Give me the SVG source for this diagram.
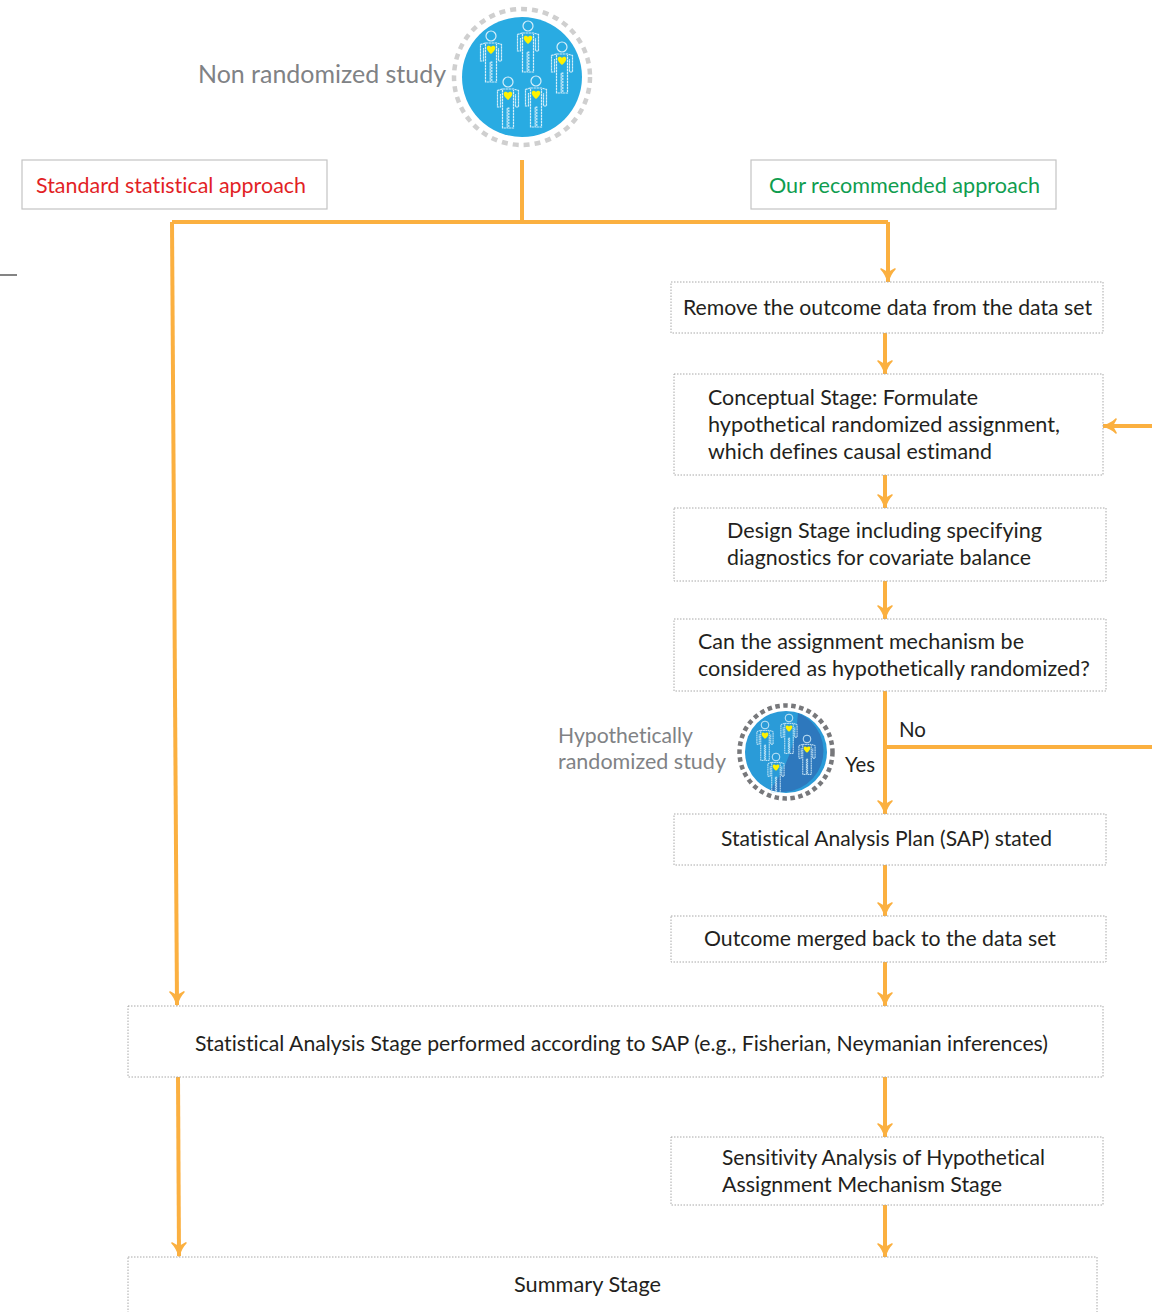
<svg xmlns="http://www.w3.org/2000/svg" xmlns:xlink="http://www.w3.org/1999/xlink" width="1152" height="1312" viewBox="0 0 1152 1312">
<style>
text{font-family:Lato,"Open Sans","Liberation Sans",sans-serif;font-size:22px;fill:#231f20;font-variant-ligatures:none}
.grey{fill:#808285}
.box{fill:#fff;stroke:#a8a8a8;stroke-width:1;stroke-dasharray:1.5 1.5}
.solid{fill:#fff;stroke:#c4c4c4;stroke-width:1.2}
.c{fill:none;stroke:#fbb040;stroke-width:4}
.p{fill:none;stroke:#d4eefa;stroke-width:1.2}
.d{fill:none;stroke:#d4eefa;stroke-width:1.2;stroke-dasharray:2.4 .6}
</style>
<defs>
<marker id="a" markerUnits="userSpaceOnUse" markerWidth="20" markerHeight="20" viewBox="0 0 20 20" refX="18" refY="10" orient="auto">
<path d="M5 3 Q10 8 18 10 Q10 12 5 17 L9 10 Z" fill="#fbb040" stroke="#fbb040" stroke-width="1.6" stroke-linejoin="round"/>
</marker>
<g id="person">
<circle cx="0" cy="0" r="5" class="p"/>
<path class="d" d="M-5.5 7 H5.5 L10.5 8.5 V25 H7.5 V12 M-5.5 7 L-10.5 8.5 V25 H-7.5 V12"/>
<path class="d" d="M-5.5 8 V46 H-.8 V26 H.8 V46 H5.5 V8"/>
<path d="M0 18 C-3 15.5 -4.5 13.5 -4.3 11.5 C-4 9.5 -1.2 9.2 0 11 C1.2 9.2 4 9.5 4.3 11.5 C4.5 13.5 3 15.5 0 18 Z" fill="#fff200"/>
</g>
</defs>
<g id="connectors">
<path class="c" d="M522 160 V222"/>
<path class="c" d="M172 222 H888"/>
<path class="c" d="M172 222 L177 1005" marker-end="url(#a)"/>
<path class="c" d="M888 222 V282" marker-end="url(#a)"/>
<path class="c" d="M885 333 V374" marker-end="url(#a)"/>
<path class="c" d="M885 475 V508" marker-end="url(#a)"/>
<path class="c" d="M885 581 V619" marker-end="url(#a)"/>
<path class="c" d="M885 691 V814" marker-end="url(#a)"/>
<path class="c" d="M885 747 H1152"/>
<path class="c" d="M1152 426 H1103" marker-end="url(#a)"/>
<path class="c" d="M885 865 V916" marker-end="url(#a)"/>
<path class="c" d="M885 962 V1006" marker-end="url(#a)"/>
<path class="c" d="M885 1077 V1137" marker-end="url(#a)"/>
<path class="c" d="M885 1205 V1257" marker-end="url(#a)"/>
<path class="c" d="M178 1077 L179 1256" marker-end="url(#a)"/>
</g>
<path d="M0 275 H17" stroke="#333" stroke-width="1.2"/>
<g id="non-randomized">
<text x="198" y="83" class="grey" style="font-size:25px" textLength="248" lengthAdjust="spacingAndGlyphs">Non randomized study</text>
<circle cx="522" cy="77" r="68" fill="none" stroke="#cfcfcf" stroke-width="4.5" stroke-dasharray="6 5"/>
<circle cx="522" cy="77" r="60" fill="#29abe2"/>
<use xlink:href="#person" href="#person" x="491" y="36"/>
<use xlink:href="#person" href="#person" x="528" y="26"/>
<use xlink:href="#person" href="#person" x="562" y="47"/>
<use xlink:href="#person" href="#person" x="508" y="82"/>
<use xlink:href="#person" href="#person" x="536" y="81"/>
</g>
<g id="standard"><rect class="solid" x="22" y="160" width="305" height="49"/><text x="36" y="193" style="fill:#e21f26" textLength="270" lengthAdjust="spacingAndGlyphs">Standard statistical approach</text></g>
<g id="recommended"><rect class="solid" x="751" y="160" width="305" height="49"/><text x="769" y="193" style="fill:#0f9d4f" textLength="271" lengthAdjust="spacingAndGlyphs">Our recommended approach</text></g>
<g id="remove"><rect class="box" x="671" y="282" width="432" height="51"/><text x="683" y="315" textLength="409" lengthAdjust="spacingAndGlyphs">Remove the outcome data from the data set</text></g>
<g id="conceptual"><rect class="box" x="674" y="374" width="429" height="101"/>
<text x="708" y="405" textLength="270" lengthAdjust="spacingAndGlyphs">Conceptual Stage: Formulate</text>
<text x="708" y="432" textLength="352" lengthAdjust="spacingAndGlyphs">hypothetical randomized assignment,</text>
<text x="708" y="459" textLength="284" lengthAdjust="spacingAndGlyphs">which defines causal estimand</text></g>
<g id="design"><rect class="box" x="674" y="508" width="432" height="73"/>
<text x="727" y="538" textLength="315" lengthAdjust="spacingAndGlyphs">Design Stage including specifying</text>
<text x="727" y="565" textLength="304" lengthAdjust="spacingAndGlyphs">diagnostics for covariate balance</text></g>
<g id="can"><rect class="box" x="674" y="619" width="432" height="72"/>
<text x="698" y="649" textLength="326" lengthAdjust="spacingAndGlyphs">Can the assignment mechanism be</text>
<text x="698" y="676" textLength="392" lengthAdjust="spacingAndGlyphs">considered as hypothetically randomized?</text></g>
<g id="hypothetical">
<text x="558" y="743" class="grey" textLength="135" lengthAdjust="spacingAndGlyphs">Hypothetically</text>
<text x="558" y="769" class="grey" textLength="168" lengthAdjust="spacingAndGlyphs">randomized study</text>
<circle cx="786" cy="752" r="46.5" fill="none" stroke="#77787b" stroke-width="4.5" stroke-dasharray="4.5 3.5"/>
<circle cx="786" cy="752" r="41" fill="#2a9bd8"/>
<path d="M798 713 Q796 755 770 790 A41 41 0 0 0 798 713 Z" fill="#2e78bd"/>
<use xlink:href="#person" href="#person" transform="translate(765 725) scale(.77)"/>
<use xlink:href="#person" href="#person" transform="translate(789 718) scale(.77)"/>
<use xlink:href="#person" href="#person" transform="translate(807 739) scale(.77)"/>
<use xlink:href="#person" href="#person" transform="translate(776 757) scale(.77)"/>
</g>
<text x="845" y="772" textLength="30" lengthAdjust="spacingAndGlyphs">Yes</text>
<text x="899" y="737" textLength="27" lengthAdjust="spacingAndGlyphs">No</text>
<g id="sap"><rect class="box" x="674" y="814" width="432" height="51"/><text x="721" y="846" textLength="331" lengthAdjust="spacingAndGlyphs">Statistical Analysis Plan (SAP) stated</text></g>
<g id="outcome"><rect class="box" x="671" y="916" width="435" height="46"/><text x="704" y="946" textLength="352" lengthAdjust="spacingAndGlyphs">Outcome merged back to the data set</text></g>
<g id="analysis"><rect class="box" x="128" y="1006" width="975" height="71"/><text x="195" y="1051" textLength="853" lengthAdjust="spacingAndGlyphs">Statistical Analysis Stage performed according to SAP (e.g., Fisherian, Neymanian inferences)</text></g>
<g id="sensitivity"><rect class="box" x="671" y="1137" width="432" height="68"/>
<text x="722" y="1165" textLength="323" lengthAdjust="spacingAndGlyphs">Sensitivity Analysis of Hypothetical</text>
<text x="722" y="1192" textLength="280" lengthAdjust="spacingAndGlyphs">Assignment Mechanism Stage</text></g>
<g id="summary"><rect class="box" x="128" y="1257" width="969" height="70"/><text x="514" y="1292" textLength="147" lengthAdjust="spacingAndGlyphs">Summary Stage</text></g>
</svg>
